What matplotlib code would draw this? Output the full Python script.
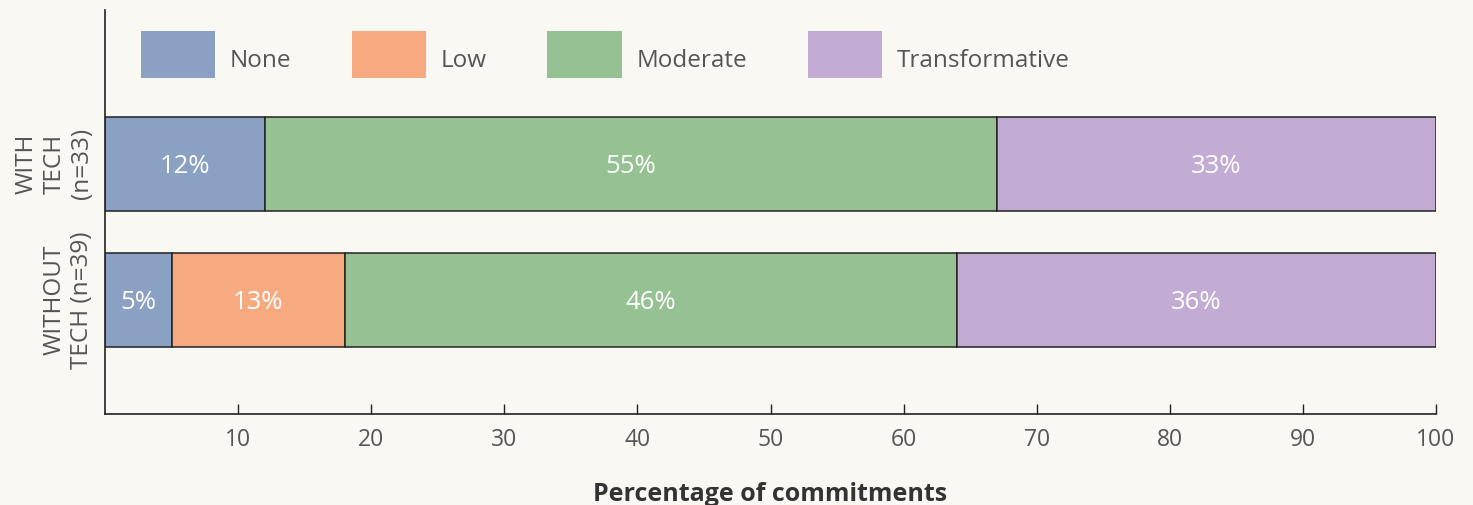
import matplotlib.pyplot as plt
from matplotlib.patches import Patch
import numpy as np

# data
groups = ["WITHOUT\nTECH (n=39)", "WITH\nTECH\n(n=33)"]
levels = ["None", "Low", "Moderate", "Transformative"]
colors = ["#8aa1c3", "#f7aa80", "#96c193", "#c3acd3"]
without_tech = [5, 13, 46, 36]
with_tech = [12, 0, 55, 33]
shares = np.array([without_tech, with_tech])

bg = "#faf8f2"
plt.rcParams['font.family'] = ['Open Sans', 'DejaVu Sans']

fig = plt.figure(figsize=(14.73, 5.05), dpi=100, facecolor=bg)
ax = fig.add_axes([105/1473, 1-414/505, 1331/1473, 404/505], facecolor=bg)

y = np.arange(len(groups))
left = np.zeros(len(groups))
for i, lev in enumerate(levels):
    vals = shares[:, i]
    mask = vals > 0
    bars = ax.barh(y[mask], vals[mask], left=left[mask], height=0.69,
                   color=colors[i], edgecolor="#222222", linewidth=1.1)
    for b, v in zip(bars, vals[mask]):
        ax.text(b.get_x() + b.get_width()/2, b.get_y() + b.get_height()/2,
                f"{v}%", ha="center", va="center_baseline", color="white",
                fontsize=18.5)
    left = left + vals

ax.set_xlim(0, 100)
ax.set_ylim(-0.838, 2.13)
ax.set_xticks(np.arange(10, 101, 10))
ax.set_yticks(y)
ax.set_yticklabels(groups, rotation=90, va="center", ha="right",
                   multialignment="center", linespacing=1.2)
ax.tick_params(axis="x", direction="in", length=7, width=1, color="#222222",
               labelcolor="#555555", labelsize=16.5, pad=10)
ax.tick_params(axis="y", length=0, labelcolor="#555555", labelsize=17.5, pad=8)
for s in ["top", "right"]:
    ax.spines[s].set_visible(False)
for s in ["left", "bottom"]:
    ax.spines[s].set_color("#222222")
    ax.spines[s].set_linewidth(1.2)

ax.set_xlabel("Percentage of commitments", fontsize=18, fontweight="bold",
              color="#333333", labelpad=22)

handles = [Patch(facecolor=c, edgecolor="none") for c in colors]
leg = ax.legend(handles, levels, loc="upper left", ncol=4, frameon=False,
                bbox_to_anchor=(36/1331, 1-21/404), borderpad=0, borderaxespad=0,
                handlelength=3.05, handleheight=2.6, handletextpad=0.6,
                columnspacing=2.5, fontsize=17.5, labelcolor="#555555")
for t in leg.get_texts():
    t.set_y(-5)

fig.savefig("out.png", dpi=100, facecolor=bg)
